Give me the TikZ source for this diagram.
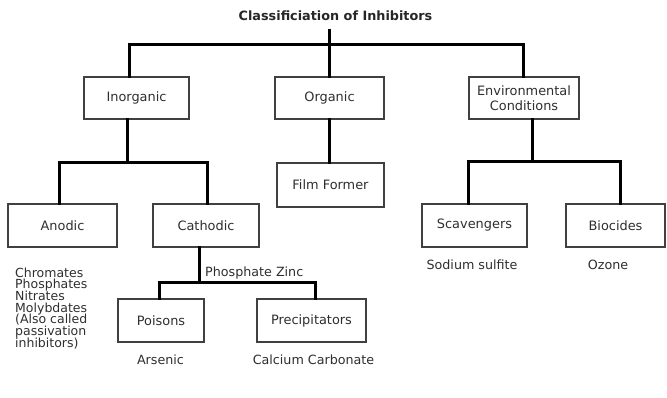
\documentclass[tikz,border=0pt]{standalone}
\usepackage{fontspec}
\setmainfont{DejaVu Sans}
\definecolor{txt}{gray}{0.18}
\definecolor{bord}{gray}{0.25}
\newcommand\mytightskip{\lineskiplimit=-20pt\relax\lineskip=0pt\relax}
\begin{document}
\begin{tikzpicture}[x=1pt,y=-1pt,
  box/.style={draw=bord,line width=1.4pt,inner sep=0pt,text=txt,align=center,
    font=\fontsize{12.9}{15}\selectfont},
  lbl/.style={inner sep=0pt,text=txt,font=\fontsize{12.7}{15}\selectfont},
  conn/.style={line width=3pt,black,line cap=rect}]
\useasboundingbox (0,0) rectangle (667,397);
\node[inner sep=0pt,font=\bfseries\fontsize{12.8}{14}\selectfont,text=black!85] (title) at (335.5,16) {Classificiation of Inhibitors};
% level 1
\node[box,minimum width=105,minimum height=42] (inorg) at (136.5,98) {Inorganic};
\node[box,minimum width=109,minimum height=42] (org) at (329.5,98) {Organic};
\node[box,minimum width=110,minimum height=42,font=\fontsize{12.9}{15.5}\selectfont] (env) at (524,98) {Environmental\\Conditions};
% level 2
\node[box,minimum width=109,minimum height=43] (anod) at (62.5,225.5) {Anodic};
\node[box,minimum width=106,minimum height=43] (cath) at (206,225.5) {Cathodic};
\node[box,minimum width=107,minimum height=44] (film) at (330.5,185) {Film Former};
\node[box,minimum width=105,minimum height=43] (scav) at (474.5,225.5) {Scavengers};
\node[box,minimum width=99,minimum height=43] (bio) at (615.5,225.5) {Biocides};
% level 3
\node[box,minimum width=86,minimum height=43] (pois) at (161,320.5) {Poisons};
\node[box,minimum width=109,minimum height=43] (prec) at (311.5,320.5) {Precipitators};
% labels
\node[lbl,anchor=north west,align=left,font=\fontsize{12.5}{11.67}\selectfont\mytightskip] (alist) at (15,267.5) {Chromates\\Phosphates\\Nitrates\\Molybdates\\(Also called\\passivation\\inhibitors)};
\node[lbl,anchor=west] (pz) at (205,273) {Phosphate Zinc};
\node[lbl] (ars) at (160.5,360) {Arsenic};
\node[lbl] (cac) at (313.5,359.5) {Calcium Carbonate};
\node[lbl] (sod) at (472,265) {Sodium sulfite};
\node[lbl] (ozo) at (608,265) {Ozone};
% junction coordinates
\coordinate (t0) at (329,30);
\coordinate (hL) at (129,44);
\coordinate (hR) at (523,44);
\coordinate (iL) at (59,162);
\coordinate (iR) at (207,162);
\coordinate (ib) at (127,119);
\coordinate (eL) at (468,161);
\coordinate (eR) at (620,161);
\coordinate (eb) at (532,119);
\coordinate (cL) at (159,282);
\coordinate (cR) at (315,282);
\coordinate (cb) at (199,247);
% connectors
\draw[conn] (t0) -- (t0 |- hL);
\draw[conn] (hL |- inorg.north) -- (hL) -- (hR) -- (hR |- env.north);
\draw[conn] (t0 |- hL) -- (t0 |- org.north);
\draw[conn] (ib) -- (ib |- iL);
\draw[conn] (iL |- anod.north) -- (iL) -- (iR) -- (iR |- cath.north);
\draw[conn] (t0 |- org.south) -- (t0 |- film.north);
\draw[conn] (eb) -- (eb |- eL);
\draw[conn] (eL |- scav.north) -- (eL) -- (eR) -- (eR |- bio.north);
\draw[conn] (cb) -- (cb |- cL);
\draw[conn] (cL |- pois.north) -- (cL) -- (cR) -- (cR |- prec.north);
\end{tikzpicture}
\end{document}
